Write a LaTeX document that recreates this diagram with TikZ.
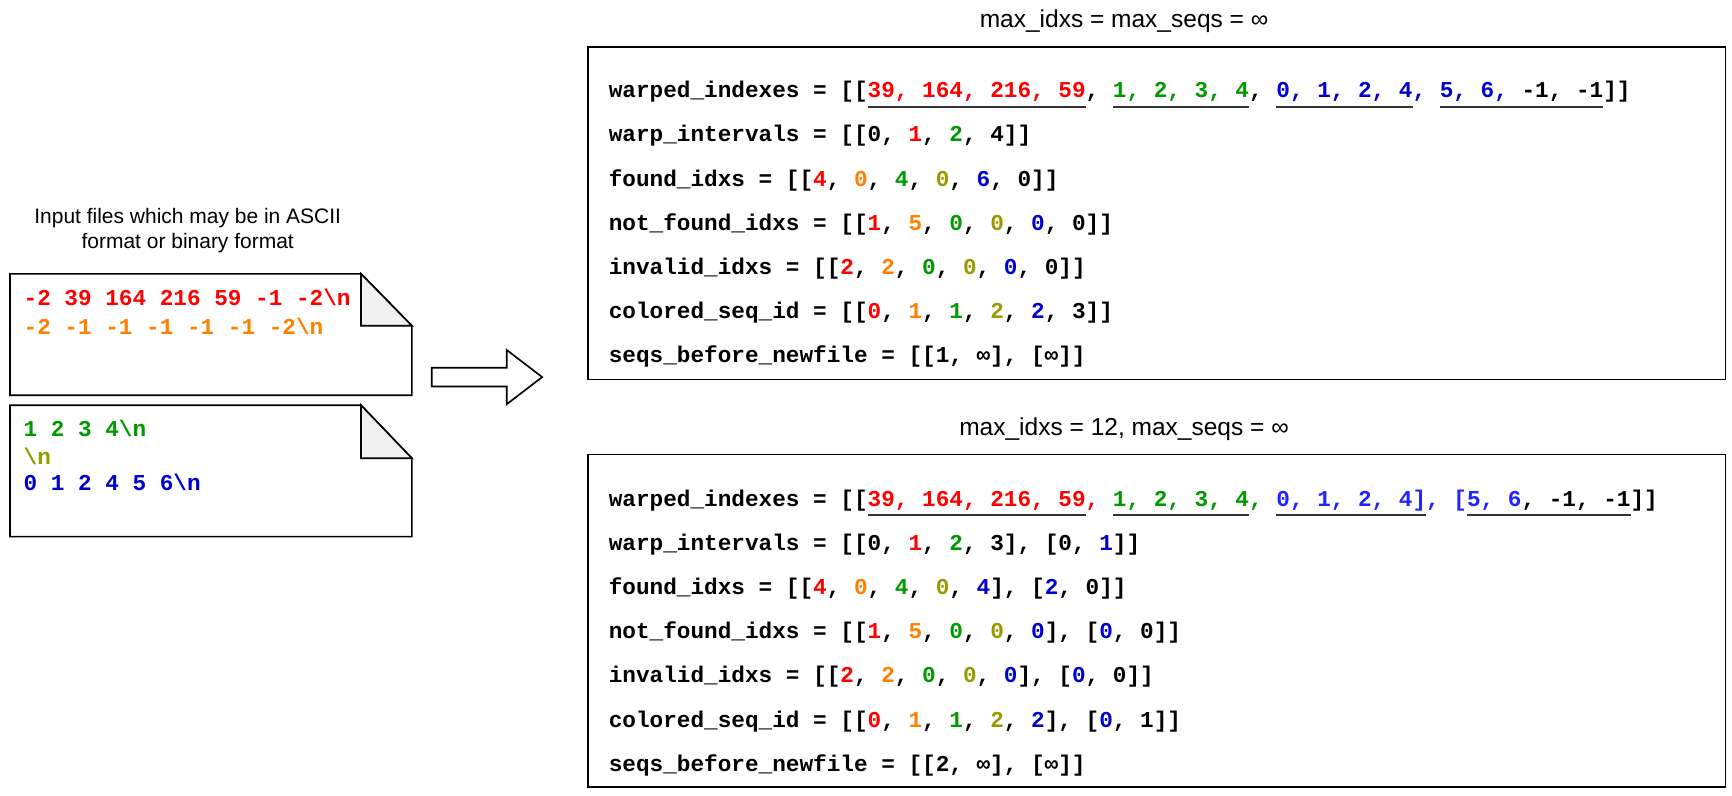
\documentclass[tikz,border=0pt]{standalone}
\usepackage{fontspec}
\setmainfont{Liberation Sans}
\newfontfamily\cour{Liberation Mono}
\usetikzlibrary{calc}
\definecolor{cred}{HTML}{FF0000}
\definecolor{corange}{HTML}{FF8000}
\definecolor{cgreen}{HTML}{009900}
\definecolor{colive}{HTML}{999900}
\definecolor{cblue}{HTML}{0000CC}
\definecolor{cblueb}{HTML}{2222FF}
\definecolor{ulc}{HTML}{333333}
\definecolor{foldc}{HTML}{F0F0F0}
\newcommand\colR[1]{\textcolor{cred}{#1}}
\newcommand\colO[1]{\textcolor{corange}{#1}}
\newcommand\colG[1]{\textcolor{cgreen}{#1}}
\newcommand\colY[1]{\textcolor{colive}{#1}}
\newcommand\colB[1]{\textcolor{cblue}{#1}}
\newcommand\colBB[1]{\textcolor{cblueb}{#1}}
\newsavebox\ulbox
\newcommand\ulseg[1]{\sbox\ulbox{#1}\rlap{\textcolor{ulc}{\rule[-4.6pt]{\wd\ulbox}{1pt}}}\usebox\ulbox}
\frenchspacing
\begin{document}
\begin{tikzpicture}[x=0.5pt,y=-0.5pt,
  mono/.style={font=\cour\bfseries\fontsize{10.28}{12}\selectfont, inner sep=0pt, anchor=base west},
  titlest/.style={font=\fontsize{11.1}{13}\selectfont, inner sep=0pt},
  capst/.style={font=\fontsize{9.5}{11.5}\selectfont, inner sep=0pt, align=center},
  boxst/.style={draw=black, line width=0.75pt, inner sep=0pt, minimum width=515pt, minimum height=150.5pt, anchor=north west},
  filest/.style={draw=black, line width=0.75pt, fill=white},
  foldst/.style={draw=black, line width=0.75pt, fill=foldc, line join=miter},
  arrowst/.style={draw=black, line width=0.75pt, fill=white}]
\useasboundingbox (0,0) rectangle (1568.6,720);

% ---------- left side ----------
\node[capst] (cap) at (170,209) {Input files which may be in ASCII\\format or binary format};

\draw[filest] (9,248) -- (327,248) -- (373,295) -- (373,358) -- (9,358) -- cycle;
\draw[foldst] (327,248) -- (327,295) -- (373,295) -- cycle;
\node[mono] (f1a) at (21,276.5) {\colR{-2 39 164 216 59 -1 -2\textbackslash n}};
\node[mono] (f1b) at (21,303) {\colO{-2 -1 -1 -1 -1 -1 -2\textbackslash n}};

\draw[filest] (9,367) -- (327,367) -- (373,415) -- (373,486) -- (9,486) -- cycle;
\draw[foldst] (327,367) -- (327,415) -- (373,415) -- cycle;
\node[mono] (f2a) at (21,395.5) {\colG{1 2 3 4\textbackslash n}};
\node[mono] (f2b) at (21,421) {\colY{\textbackslash n}};
\node[mono] (f2c) at (21,444.5) {\colB{0 1 2 4 5 6\textbackslash n}};

\draw[arrowst] (391,333) -- (459,333) -- (459,317) -- (491,341.5) -- (459,366) -- (459,350) -- (391,350) -- cycle;

% ---------- top box ----------
\node[titlest] (title1) at (1018,19) {max\_idxs = max\_seqs = ∞};
\node[boxst] (box1) at (532,42) {};
\node[mono] (a1) at (551,88.5) {warped\_indexes = [[\ulseg{\colR{39, 164, 216, 59}}, \ulseg{\colG{1, 2, 3, 4}}, \ulseg{\colB{0, 1, 2, 4}}\colB{, }\ulseg{\colB{5, 6, }-1, -1}]]};
\node[mono] (a2) at (551,128.5) {warp\_intervals = [[0, \colR{1}, \colG{2}, 4]]};
\node[mono] (a3) at (551,168.5) {found\_idxs = [[\colR{4}, \colO{0}, \colG{4}, \colY{0}, \colB{6}, 0]]};
\node[mono] (a4) at (551,208.5) {not\_found\_idxs = [[\colR{1}, \colO{5}, \colG{0}, \colY{0}, \colB{0}, 0]]};
\node[mono] (a5) at (551,248.5) {invalid\_idxs = [[\colR{2}, \colO{2}, \colG{0}, \colY{0}, \colB{0}, 0]]};
\node[mono] (a6) at (551,288.5) {colored\_seq\_id = [[\colR{0}, \colO{1}, \colG{1}, \colY{2}, \colB{2}, 3]]};
\node[mono] (a7) at (551,328.5) {seqs\_before\_newfile = [[1, ∞], [∞]]};

% ---------- bottom box ----------
\node[titlest] (title2) at (1018,389) {max\_idxs = 12, max\_seqs = ∞};
\node[boxst] (box2) at (532,411) {};
\node[mono] (b1) at (551,458.5) {warped\_indexes = [[\ulseg{\colR{39, 164, 216, 59}}\colR{, }\ulseg{\colG{1, 2, 3, 4}}\colG{, }\ulseg{\colBB{0, 1, 2, 4]}}\colBB{, [}\ulseg{\colBB{5, 6}, -1, -1}]]};
\node[mono] (b2) at (551,498.5) {warp\_intervals = [[0, \colR{1}, \colG{2}, 3], [0, \colB{1}]]};
\node[mono] (b3) at (551,538.5) {found\_idxs = [[\colR{4}, \colO{0}, \colG{4}, \colY{0}, \colB{4}], [\colB{2}, 0]]};
\node[mono] (b4) at (551,578.5) {not\_found\_idxs = [[\colR{1}, \colO{5}, \colG{0}, \colY{0}, \colB{0}], [\colB{0}, 0]]};
\node[mono] (b5) at (551,618.5) {invalid\_idxs = [[\colR{2}, \colO{2}, \colG{0}, \colY{0}, \colB{0}], [\colB{0}, 0]]};
\node[mono] (b6) at (551,658.5) {colored\_seq\_id = [[\colR{0}, \colO{1}, \colG{1}, \colY{2}, \colB{2}], [\colB{0}, 1]]};
\node[mono] (b7) at (551,698.5) {seqs\_before\_newfile = [[2, ∞], [∞]]};
\end{tikzpicture}
\end{document}
